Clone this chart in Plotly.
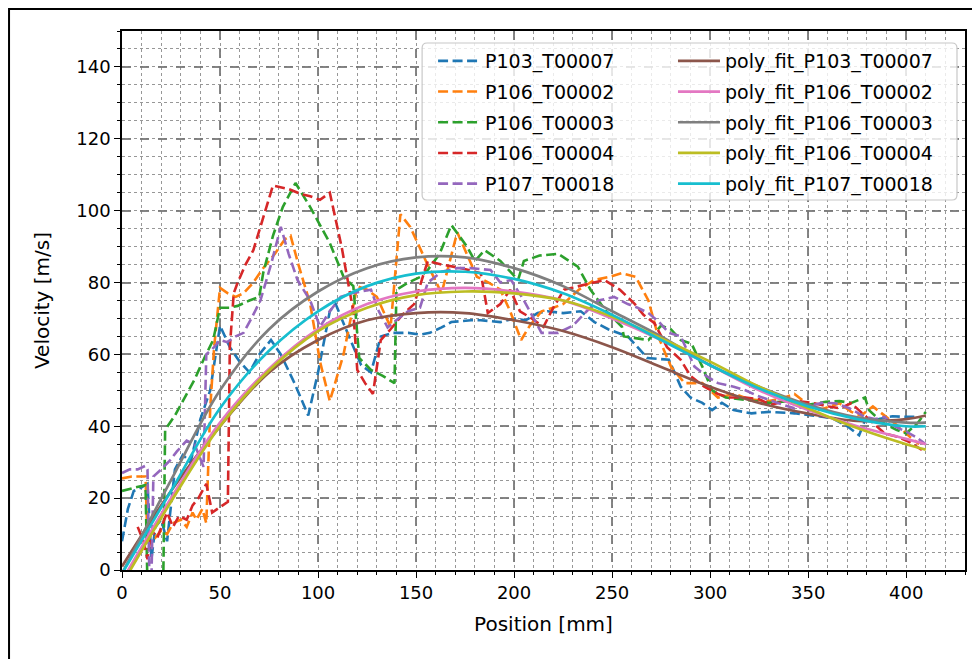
import plotly.graph_objects as go

# ---------------- data ----------------
p103_t00007_x = [0, 3, 6, 10, 13, 15, 17, 20, 23, 27, 31, 35, 40, 45, 50, 55, 60, 65, 70, 76, 81, 88, 95, 100, 106, 109, 115, 122, 127, 132, 138, 146, 152, 157, 163, 168, 178, 183, 193, 200, 206, 212, 217, 225, 234, 241, 248, 258, 263, 268, 279, 285, 290, 296, 301, 306, 312, 321, 330, 343, 352, 362, 370, 376, 379, 386, 393, 399, 406]
p103_t00007_v = [8, 17, 22, 23, 24, 3, 12, 14, 8, 28, 32, 30, 42, 50, 68, 62, 58, 55, 60, 64, 60, 52, 43, 55, 72, 74, 66, 57, 55, 65, 66, 66, 65.5, 66, 67.5, 69, 69.5, 69.5, 69, 70, 69.5, 71.5, 72, 71.5, 72, 69, 67, 65, 62, 59, 58.5, 51, 48, 46.5, 44.5, 46.5, 44.5, 43.6, 44, 43.6, 43, 42.3, 40, 37.5, 41.7, 42, 42.8, 42.6, 42.6]

p106_t00002_x = [0, 5, 10, 12, 13, 15, 17, 20, 23, 26, 30, 33, 36, 38, 41, 43, 45, 47, 50, 54, 58, 62, 67, 72, 78, 83, 86, 90, 96, 101, 106, 113, 120, 125, 130, 137, 142, 147, 155, 163, 171, 176, 181, 187, 193, 198, 203.6, 208, 214, 220, 225, 233, 241, 248, 255, 262, 268.5, 273.5, 280, 287, 296, 304, 312.5, 320, 330, 338, 343, 350, 355.5, 361, 366, 372, 377, 383, 389, 396, 402, 406.6]
p106_t00002_v = [25.5, 26, 26, 26, 8, 10, 9, 11, 10, 13, 14, 12, 16, 14, 17, 13, 45, 62, 78.5, 77, 76, 77, 80, 84, 88, 92, 93, 85, 74, 58, 47, 60, 79, 78, 76, 67.6, 99, 95.5, 86, 77, 94, 88, 81.6, 80, 78, 72, 64, 68, 72, 73, 74, 78, 80.7, 81.5, 82.6, 81.6, 75, 65, 56.6, 52, 52, 48, 49, 47.5, 47, 48, 49, 46, 44.5, 45.5, 46.4, 44, 43, 45.5, 43, 40, 37, 35]

p106_t00003_x = [0, 3, 7, 12, 13, 21, 22, 27, 32, 37, 42, 46.5, 50, 55, 59, 65, 70, 72, 77, 82, 88.5, 96, 101, 106, 113, 118, 121, 127, 133, 139, 140, 146, 152, 156, 162, 168, 176, 180, 185, 193, 202, 205, 213, 222.5, 232.5, 239, 247, 255, 256, 262, 268.5, 275, 280, 285, 290.5, 296, 301, 308, 319.5, 330, 340, 350, 359, 366, 372, 379, 381, 388, 395, 400, 406, 410]
p106_t00003_v = [22, 22.5, 23, 23.6, -5, -5, 39, 43, 48, 53, 59, 64, 73, 73, 73.5, 75, 76, 82.6, 93, 101, 107.7, 101, 96, 91, 81.6, 79, 59, 55.7, 54, 52, 78, 80, 81.5, 83.5, 88, 96, 90, 86, 89, 86, 80.7, 86, 87.5, 88, 84.4, 78, 72, 67.7, 65, 64.5, 64, 68, 67, 64, 63, 56.6, 50, 48, 47.3, 46.5, 47, 46, 46.8, 47, 46.5, 48, 44.5, 41, 39, 38, 41, 44]

p106_t00004_x = [8, 11, 13, 15, 18, 21, 23, 26, 29, 33, 36, 39, 43, 46, 50, 54, 55, 57, 59, 63, 67, 72, 77, 85, 92, 96, 101, 106, 112, 118, 120, 124, 128, 132, 137, 143, 149, 156, 163, 173, 183, 186.6, 193, 198, 203, 209, 215, 220, 225.5, 233, 240, 246, 254, 261.6, 266, 271.6, 278, 285, 290, 297, 304, 310, 318, 325, 331, 338, 345, 352, 360.6, 366, 372, 377, 383, 389, 396, 402, 408]
p106_t00004_v = [12, 8, 3, 11, 9, 13, 16, 12, 15, 14, 18, 20, 24, 16, 17.6, 19, 62, 77, 80, 85, 89, 98, 107, 106, 104.5, 104, 103, 105, 90, 72, 55.7, 52, 49, 64, 67, 71, 74, 86, 85, 84, 82.6, 71.5, 74, 78, 72, 70, 67.7, 73, 78, 79, 80, 80.7, 78, 74, 71, 68.7, 62, 58.5, 54, 51, 49, 48, 48, 47.5, 46, 47, 47, 46.5, 45.5, 45, 46.4, 44, 41, 38, 37, 35.5, 33.4]

p107_t00018_x = [0, 4, 8, 12, 13, 14, 15, 16, 20, 24.6, 28, 33, 37, 41.6, 43, 47, 50, 53.6, 58, 62, 66, 70.6, 76, 81, 85, 89.5, 96, 101, 106, 111.5, 117, 122, 127, 131, 135.5, 141, 146, 152, 156, 163, 171, 178, 188, 193, 198.5, 205, 210, 214, 222.5, 230, 237, 243, 251, 258, 263, 268.5, 274, 279, 285, 292, 298, 304, 312, 318, 324, 330, 337, 343, 350, 357, 364, 371, 379, 384, 389, 394, 400, 405, 410]
p107_t00018_v = [27, 28, 28, 29, 28, -3, -3, 26, 28, 30.6, 33, 36, 35, 28.7, 60, 62, 64, 63.4, 65, 66, 70, 75, 85, 95.5, 88, 80.7, 75, 67.7, 72, 76, 77, 77.5, 78, 72, 67.5, 70, 72, 73, 80, 83, 84, 84, 83.5, 80, 80.7, 75, 70, 66, 66, 68, 72, 75, 76, 74, 73, 71.5, 69, 66, 65, 56.6, 54, 52, 51, 50, 48.5, 47.3, 46, 45, 45.5, 46.5, 46.4, 45, 42.6, 42, 42.6, 40, 38.5, 37, 35]

fit_x = [0, 25, 50, 75, 100, 125, 150, 175, 200, 225, 250, 275, 300, 325, 350, 375, 400, 410]
fit_p103_t00007 = [1, 22, 40, 55, 64, 69.5, 71.5, 71.5, 69.5, 66.5, 62, 56.5, 51, 46.5, 43.5, 41.5, 42, 43]
fit_p106_t00002 = [-3, 20, 41, 56, 67, 74, 77.5, 78.5, 77.5, 75, 70, 64, 57, 50, 44.5, 40, 36.5, 35]
fit_p106_t00003 = [-1, 25, 50, 67, 77.5, 84, 87, 87, 84, 79, 72, 65, 57, 51, 46, 42.5, 41, 41]
fit_p106_t00004 = [-4, 19, 40, 55.5, 66.5, 73, 76.5, 77.5, 77, 75, 70.5, 64.5, 58, 51, 45, 39.5, 35, 33.5]
fit_p107_t00018 = [-1, 22, 45, 61, 72, 79, 82.5, 83, 81, 77, 71, 64, 57, 50.5, 45.5, 42, 40, 40]

raw_names = ["P103_T00007", "P106_T00002", "P106_T00003", "P106_T00004", "P107_T00018"]
raw_x = [p103_t00007_x, p106_t00002_x, p106_t00003_x, p106_t00004_x, p107_t00018_x]
raw_v = [p103_t00007_v, p106_t00002_v, p106_t00003_v, p106_t00004_v, p107_t00018_v]
fit_names = ["poly_fit_" + n for n in raw_names]
fit_v = [fit_p103_t00007, fit_p106_t00002, fit_p106_t00003, fit_p106_t00004, fit_p107_t00018]

x_ticks = [0, 50, 100, 150, 200, 250, 300, 350, 400]
y_ticks = [0, 20, 40, 60, 80, 100, 120, 140]

raw_colors = ["#1f77b4", "#ff7f0e", "#2ca02c", "#d62728", "#9467bd"]
fit_colors = ["#8c564b", "#e377c2", "#7f7f7f", "#bcbd22", "#17becf"]

# ---------------- figure ----------------
FONT = "DejaVu Sans"
fig = go.Figure()

for name, xs, vs, col in zip(raw_names, raw_x, raw_v, raw_colors):
    fig.add_trace(go.Scatter(x=xs, y=vs, mode="lines", name=name,
                             line=dict(color=col, width=2.6, dash="10px,4.5px"),
                             legend="legend", legendgroup=name))
for name, vs, col in zip(fit_names, fit_v, fit_colors):
    fig.add_trace(go.Scatter(x=fit_x, y=vs, mode="lines", name=name,
                             line=dict(color=col, width=2.7, shape="spline"),
                             legend="legend2", legendgroup=name))

XR = [0, 430]
YR = [0, 150]
grid_major = "rgba(120,120,120,0.9)"
grid_minor = "rgba(140,140,140,0.9)"

common_axis = dict(showline=True, linecolor="black", linewidth=1.6, mirror=True,
                   ticks="outside", ticklen=6, tickwidth=1.4, tickcolor="black",
                   showgrid=True, gridcolor=grid_major, gridwidth=1.6, griddash="dash",
                   zeroline=False, tickfont=dict(family=FONT, size=18, color="black"))

# rounded legend frame (paper coordinates)
bx0, bx1, by0, by1 = 0.356, 0.9905, 0.6865, 0.9777
rx, ry = 5 / 843, 5 / 539
frame_path = (f"M{bx0+rx},{by0} L{bx1-rx},{by0} Q{bx1},{by0} {bx1},{by0+ry} "
              f"L{bx1},{by1-ry} Q{bx1},{by1} {bx1-rx},{by1} L{bx0+rx},{by1} "
              f"Q{bx0},{by1} {bx0},{by1-ry} L{bx0},{by0+ry} Q{bx0},{by0} {bx0+rx},{by0} Z")

fig.update_layout(
    width=972, height=651,
    paper_bgcolor="white", plot_bgcolor="white",
    margin=dict(l=114, r=15, t=23, b=89),
    font=dict(family=FONT, size=18, color="black"),
    xaxis=dict(range=XR, tickvals=x_ticks, **common_axis,
               minor=dict(dtick=10, tick0=0, showgrid=True, griddash="dot", gridcolor=grid_minor,
                          gridwidth=1.3, ticks="outside", ticklen=3.5, tickcolor="black"),
               title=dict(text="Position [mm]", font=dict(family=FONT, size=20), standoff=15)),
    yaxis=dict(range=YR, tickvals=y_ticks, **common_axis,
               minor=dict(dtick=5, tick0=0, showgrid=True, griddash="dot", gridcolor=grid_minor,
                          gridwidth=1.3, ticks="outside", ticklen=3.5, tickcolor="black"),
               title=dict(text="Velocity [m/s]", font=dict(family=FONT, size=20), standoff=21)),
    xaxis2=dict(range=XR, overlaying="x", side="top", anchor="y", tickvals=x_ticks,
                ticks="inside", ticklen=6, tickwidth=1.4, tickcolor="black",
                showticklabels=False, showgrid=False, zeroline=False, showline=False,
                minor=dict(dtick=10, tick0=0, ticks="inside", ticklen=3.5, tickcolor="black", showgrid=False)),
    yaxis2=dict(range=YR, overlaying="y", side="right", anchor="x", tickvals=y_ticks,
                ticks="inside", ticklen=6, tickwidth=1.4, tickcolor="black",
                showticklabels=False, showgrid=False, zeroline=False, showline=False,
                minor=dict(dtick=5, tick0=0, ticks="inside", ticklen=3.5, tickcolor="black", showgrid=False)),
    legend=dict(x=0.369, y=0.9796, xanchor="left", yanchor="top", bgcolor="rgba(0,0,0,0)",
                borderwidth=0, font=dict(family=FONT, size=19), tracegroupgap=3,
                traceorder="grouped", itemwidth=42),
    legend2=dict(x=0.6536, y=0.9796, xanchor="left", yanchor="top", bgcolor="rgba(0,0,0,0)",
                 borderwidth=0, font=dict(family=FONT, size=19), tracegroupgap=3,
                 traceorder="grouped", itemwidth=42),
    shapes=[
        dict(type="path", xref="paper", yref="paper", path=frame_path,
             fillcolor="rgba(255,255,255,0.8)", line=dict(color="rgba(200,200,200,1)", width=1.2),
             layer="above"),
        dict(type="rect", xref="paper", yref="paper", x0=-0.1340, x1=1.0142, y0=-0.25, y1=1.0408,
             fillcolor="rgba(0,0,0,0)", line=dict(color="black", width=2), layer="above"),
    ],
)

fig.write_html("out.html")
